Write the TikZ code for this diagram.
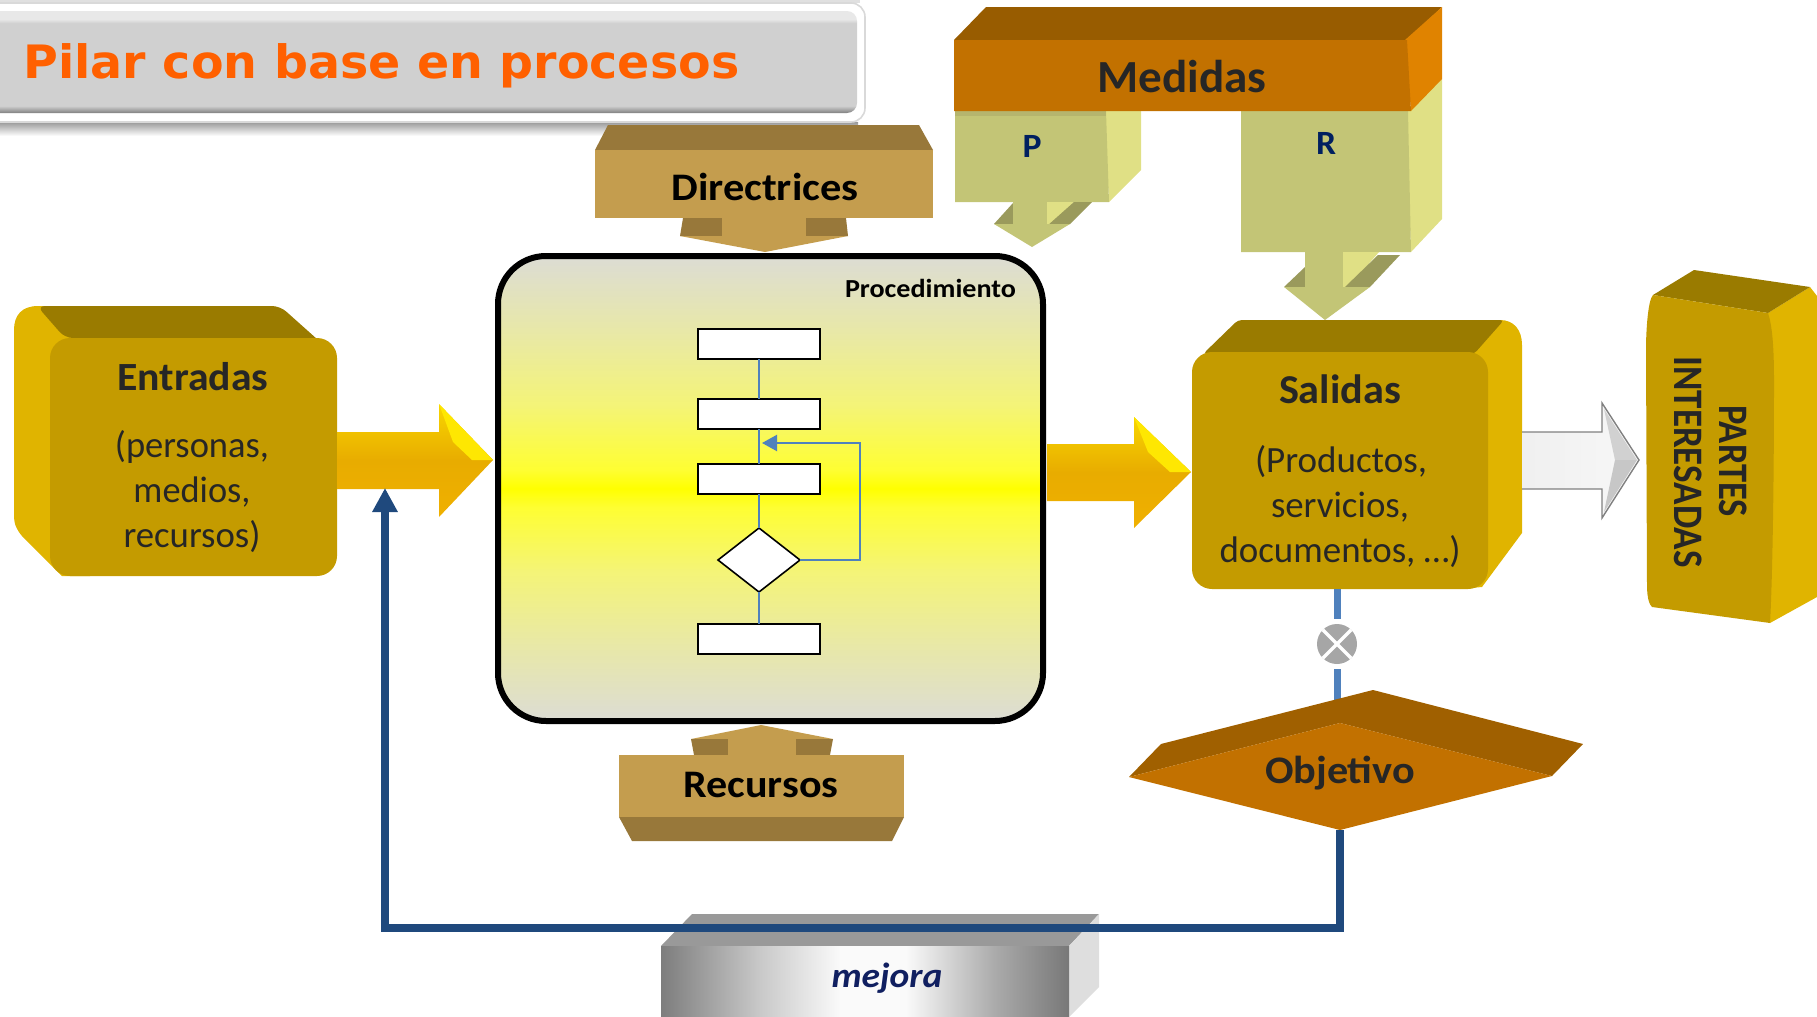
\documentclass[tikz,border=0pt]{standalone}
\usepackage{fontspec}
\usepackage{graphicx}
\setmainfont{Carlito}
\newfontfamily\titlefont{DejaVu Sans}
\usetikzlibrary{arrows.meta,shapes.geometric}
\definecolor{gyFront}{HTML}{C49B00}
\definecolor{gyTop}{HTML}{9A7B00}
\definecolor{gySide}{HTML}{E0B400}
\definecolor{brFront}{HTML}{C49D4E}
\definecolor{brDark}{HTML}{98783A}
\definecolor{orFront}{HTML}{C27100}
\definecolor{orTop}{HTML}{985C00}
\definecolor{orTopB}{HTML}{A06000}
\definecolor{orSide}{HTML}{E08300}
\definecolor{olFront}{HTML}{C3C576}
\definecolor{olSide}{HTML}{E0E085}
\definecolor{olDark}{HTML}{9A9A5C}
\definecolor{olBand}{HTML}{B5B56E}
\definecolor{inkT}{HTML}{262626}
\definecolor{navyT}{HTML}{002060}
\definecolor{mejT}{HTML}{101F60}
\definecolor{flowB}{HTML}{4F81BD}
\definecolor{loopB}{HTML}{1F497D}
\definecolor{titleO}{HTML}{FF6000}
\definecolor{pA}{HTML}{DCDCD4}
\definecolor{pB}{HTML}{E8E8A8}
\definecolor{pC}{HTML}{F4F478}
\definecolor{pD}{HTML}{FEFE32}
\definecolor{pE}{HTML}{FFFF00}
\definecolor{bA}{HTML}{808080}
\definecolor{bB}{HTML}{D0D0D0}
\definecolor{bC}{HTML}{E8E8E8}
\definecolor{sA}{HTML}{7D7D7D}
\definecolor{sB}{HTML}{C8C8C8}
\definecolor{sC}{HTML}{FAFAFA}
\definecolor{sD}{HTML}{AAAAAA}
\definecolor{sE}{HTML}{787878}
\definecolor{gA}{HTML}{F0B000}
\definecolor{gB}{HTML}{E8AC00}
\definecolor{gC}{HTML}{F8D600}
\pgfdeclareverticalshading{procshade}{100bp}{
 color(0bp)=(pA); color(25bp)=(pA); color(33bp)=(pB); color(41bp)=(pC);
 color(48bp)=(pD); color(50bp)=(pE); color(52bp)=(pD); color(59bp)=(pC);
 color(67bp)=(pB); color(75bp)=(pA); color(100bp)=(pA)}
\pgfdeclareverticalshading{barshade}{100bp}{
 color(0bp)=(bA); color(25bp)=(bA); color(28.5bp)=(bB); color(69bp)=(bB);
 color(71bp)=(bC); color(75bp)=(bC); color(100bp)=(bC)}
\pgfdeclarehorizontalshading{steelshade}{100bp}{
 color(0bp)=(sA); color(25bp)=(sA); color(37bp)=(sB); color(47bp)=(sC);
 color(55bp)=(sC); color(66bp)=(sD); color(75bp)=(sE); color(100bp)=(sE)}
\pgfdeclareverticalshading{goldshade}{100bp}{
 color(0bp)=(gA); color(25bp)=(gA); color(50bp)=(gB); color(75bp)=(gC); color(100bp)=(gC)}
\newcommand\wt[3]{\resizebox{\dimexpr #1pt/2\relax}{\height}{\fontsize{#2}{#2}\selectfont #3}}
\tikzset{
 x=0.5pt,y=-0.5pt,
 lab/.style={inner sep=0pt,outer sep=0pt,anchor=base,text=inkT},
 flowbox/.style={draw=black,fill=white,line width=1pt,minimum width=61pt,minimum height=15pt,inner sep=0pt,outer sep=0pt},
 flowdec/.style={draw=black,fill=white,line width=0.8pt,inner sep=0pt,outer sep=0pt,diamond,minimum width=41pt,minimum height=32pt},
 flowline/.style={draw=flowB,line width=1pt},
 bigline/.style={draw=flowB,line width=3.5pt},
 loopline/.style={draw=loopB,line width=3.9pt},
}
\begin{document}
\begin{tikzpicture}
\useasboundingbox (0,0) rectangle (1817,1017);
% title bar
\shade[top color=black!40,bottom color=white] (0,122) rectangle (858,136);
\fill[black!12] (0,0) rectangle (860,3);
\fill[white,rounded corners=7pt,draw=black!15,line width=.8pt] (-30,3) rectangle (865,122);
\shade[shading=barshade,rounded corners=5pt] (-30,11) rectangle (857,113);
\node[inner sep=0pt,anchor=base west,text=titleO] (title) at (23,78) {\titlefont\bfseries\wt{716}{23}{Pilar con base en procesos}};
% Medidas P box
\fill[olSide] (1104,111) -- (1141,111) -- (1141,170) -- (1109,202) -- cycle;
\fill[olFront] (955,111) -- (1106,111) -- (1109,202) -- (955,202) -- cycle;
\fill[olBand] (955,111) rectangle (1106,116);
\fill[olDark] (994,224) -- (1013,203) -- (1013,224) -- cycle;
\fill[olSide] (1047,202) -- (1074,202) -- (1052,226) -- (1047,226) -- cycle;
\fill[olDark] (1074,202) -- (1092,202) -- (1070,224) -- (1047,226) -- cycle;
\fill[olFront] (1013,202) rectangle (1047,226);
\fill[olFront] (994,224) -- (1070,224) -- (1032,247) -- cycle;
% Medidas R box
\fill[olSide] (1406,111) -- (1442,79) -- (1442,219) -- (1411,252) -- cycle;
\fill[olFront] (1241,111) -- (1408,111) -- (1411,252) -- (1241,252) -- cycle;
\fill[olDark] (1284,287) -- (1305,267) -- (1305,287) -- cycle;
\fill[olSide] (1343,252) -- (1379,252) -- (1346,290) -- (1343,290) -- cycle;
\fill[olDark] (1378,255) -- (1400,255) -- (1370,287) -- (1345,287) -- cycle;
\fill[olFront] (1305,252) rectangle (1343,290);
\fill[olFront] (1284,287) -- (1370,287) -- (1325,320) -- cycle;
% Medidas
\fill[orTop] (954,40) -- (986,7) -- (1442,7) -- (1407,40) -- cycle;
\fill[orSide] (1405,40) -- (1442,7) -- (1442,79) -- (1411,111) -- cycle;
\fill[orFront] (954,40) -- (1407,40) -- (1411,111) -- (954,111) -- cycle;
\node[lab] (medidas) at (1182,92) {\bfseries\wt{169}{23}{Medidas}};
\node[lab,text=navyT] (plabel) at (1032,157) {\bfseries\wt{19}{17}{P}};
\node[lab,text=navyT] (rlabel) at (1326,154) {\bfseries\wt{20}{17}{R}};
% Directrices
\fill[brDark] (608,125) -- (919,125) -- (933,150) -- (595,150) -- cycle;
\fill[brFront] (595,150) rectangle (933,218);
\fill[brDark] (683,218) -- (722,218) -- (722,236) -- (680,236) -- cycle;
\fill[brDark] (806,218) -- (846,218) -- (848,236) -- (806,236) -- cycle;
\fill[brFront] (722,218) rectangle (806,237);
\fill[brFront] (680,236) -- (848,236) -- (765,252) -- cycle;
\node[lab,text=black] (directrices) at (765,200) {\bfseries\wt{187}{19.5}{Directrices}};
% Recursos
\fill[brFront] (691,739) -- (761,725) -- (833,739) -- cycle;
\fill[brDark] (691,739) -- (728,739) -- (728,755) -- (694,755) -- cycle;
\fill[brDark] (796,739) -- (833,739) -- (830,755) -- (796,755) -- cycle;
\fill[brFront] (728,738) rectangle (796,756);
\fill[brFront] (619,755) rectangle (904,817);
\fill[brDark] (619,817) -- (904,817) -- (892,841) -- (632,841) -- cycle;
\node[lab,text=black] (recursos) at (761,797) {\bfseries\wt{155}{19.5}{Recursos}};
% process box
\shade[shading=procshade,rounded corners=24pt] (498,256) rectangle (1043,721);
\draw[black,line width=3pt,rounded corners=24pt] (498,256) rectangle (1043,721);
\node[lab,text=black] (proc) at (930.5,297) {\bfseries\wt{171}{13}{Procedimiento}};
% flow chart
\node[flowbox] (f1) at (759,343.5) {};
\node[flowbox] (f2) at (759,414) {};
\node[flowbox] (f3) at (759,479) {};
\node[flowdec] (d1) at (759,560) {};
\node[flowbox] (f4) at (759,639) {};
\coordinate (loopin) at (762,443);
\coordinate (loopa) at (860,560);
\coordinate (loopb) at (860,443);
\draw[flowline] (f1) -- (f2);
\draw[flowline] (f2) -- (f3);
\draw[flowline] (f3) -- (d1);
\draw[flowline] (d1) -- (f4);
\draw[flowline,line width=1.1pt,-{Triangle[length=7.5pt,width=8pt]}] (d1.east) -- (loopa) -- (loopb) -- (loopin);
% Entradas
\fill[gySide] (14,330) .. controls (14,315) and (22,306) .. (38,306) -- (90,306) -- (90,576) -- (62,576) -- (22,536) .. controls (17,530) and (14,525) .. (14,515) -- cycle;
\fill[gyTop,rounded corners=4pt] (37,306) -- (280,306) -- (336,356) -- (320,338) -- (65,338) -- cycle;
\fill[gyFront,rounded corners=10pt] (50,338) rectangle (337,576);
\node[lab] (entradas) at (193,390) {\bfseries\wt{151}{20}{Entradas}};
\node[lab] (ent1) at (192,457) {\wt{154}{18.5}{(personas,}};
\node[lab] (ent2) at (192,502) {\wt{117}{18.5}{medios,}};
\node[lab] (ent3) at (192,547) {\wt{137}{18.5}{recursos)}};
% arrow 1
\shade[shading=goldshade] (337,432) -- (439,432) -- (439,404) -- (493,460) -- (439,517) -- (439,489) -- (337,489) -- cycle;
\fill[yellow!90!orange] (439,404) -- (493,460) -- (472,460) -- (453,442) -- cycle;
% arrow 2
\shade[shading=goldshade] (1047,444) -- (1134,444) -- (1134,417) -- (1191,472) -- (1134,528) -- (1134,501) -- (1047,501) -- cycle;
\fill[yellow!90!orange] (1134,417) -- (1191,472) -- (1170,472) -- (1148,452) -- cycle;
% Salidas
\fill[gySide] (1460,320) -- (1500,320) .. controls (1514,320) and (1522,330) .. (1522,345) -- (1522,533) -- (1482,587) -- (1460,589) -- cycle;
\fill[gyTop,rounded corners=2pt] (1238,320) -- (1504,320) -- (1474,354) -- (1203,354) -- cycle;
\fill[gyFront,rounded corners=10pt] (1192,352) rectangle (1488,589);
\node[lab] (salidas) at (1340,403) {\bfseries\wt{122}{20.5}{Salidas}};
\node[lab] (sal1) at (1341,472) {\wt{172}{18.5}{(Productos,}};
\node[lab] (sal2) at (1340,517) {\wt{138}{18.5}{servicios,}};
\node[lab] (sal3) at (1340,562) {\wt{241}{18.5}{documentos, …)}};
% white arrow
\shade[left color=black!6,right color=black!3,draw=black!50,line width=.7pt] (1522,432) -- (1602,432) -- (1602,403) -- (1639,460) -- (1602,518) -- (1602,489) -- (1522,489);
\fill[black!18] (1604,409) -- (1637,460) -- (1615,460) -- cycle;
\fill[black!22] (1604,512) -- (1637,460) -- (1615,460) -- cycle;
% partes interesadas
\fill[gySide] (1768,313) -- (1810,287) -- (1817,296) -- (1817,597) -- (1770,623) -- cycle;
\fill[gyTop] (1653,295) -- (1694,270) -- (1810,287) -- (1768,313) -- cycle;
\fill[gyFront] (1653,295) .. controls (1648,300) and (1646,330) .. (1646,350) -- (1647,585) .. controls (1647,600) and (1650,605) .. (1652,607) -- (1770,623) .. controls (1772,590) and (1774,500) .. (1774,380) .. controls (1774,345) and (1772,325) .. (1768,313) -- cycle;
\node[lab,rotate=-90,anchor=center,text=inkT] (partes) at (1733,461) {\bfseries\wt{112}{21}{PARTES}};
\node[lab,rotate=-90,anchor=center,text=inkT] (inter) at (1688,462) {\bfseries\wt{211}{21}{INTERESADAS}};
% mejora
\fill[black!40] (661,946) -- (692,914) -- (1099,914) -- (1069,946) -- cycle;
\fill[black!13] (1069,946) -- (1099,914) -- (1099,987) -- (1069,1017) -- cycle;
\shade[shading=steelshade] (661,946) rectangle (1069,1017);
\node[lab,text=mejT] (mejora) at (887,987) {\bfseries\itshape\wt{111}{17.5}{mejora}};
% check point
\node[circle,fill=black!35,minimum size=20pt,inner sep=0pt,outer sep=0pt] (xor) at (1337,644) {};
\draw[white,line width=1.7pt] (xor.north west) -- (xor.south east);
\draw[white,line width=1.7pt] (xor.north east) -- (xor.south west);
\coordinate (salB) at (1337,589);
\coordinate (objT) at (1337,705);
\draw[bigline,shorten >=2.5pt] (salB) -- (xor);
\draw[bigline,shorten <=2.5pt] (xor) -- (objT);
% objetivo
\fill[orTopB] (1129,777) -- (1161,744) -- (1373,690) -- (1583,744) -- (1552,776) -- (1340,723) -- cycle;
\fill[orFront] (1129,777) -- (1340,723) -- (1552,776) -- (1340,830) -- cycle;
\node[lab] (objetivo) at (1340,783) {\bfseries\wt{150}{19.5}{Objetivo}};
% improvement loop
\coordinate (objB) at (1340,830);
\coordinate (loopc) at (1340,928);
\coordinate (loopd) at (385,928);
\coordinate (loopt) at (385,488);
\draw[loopline,-{Triangle[length=12pt,width=12pt]}] (objB) -- (loopc) -- (loopd) -- (loopt);
\end{tikzpicture}
\end{document}
